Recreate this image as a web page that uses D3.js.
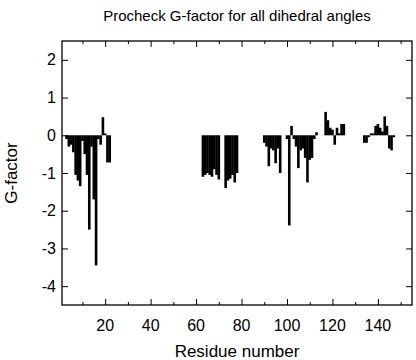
<!DOCTYPE html>
<html>
<head>
<meta charset="utf-8">
<script src="https://cdn.jsdelivr.net/npm/d3@7"></script>
<style>
    body { margin: 0; background: #fff; }
    text { font-family: "Liberation Sans", Arial, Helvetica, sans-serif; fill: #000; }
</style>
</head>
<body>
<div id="chart"></div>
<script>
// Data: residue numbers and their G-factor values
const residues = [
    3, 4, 5, 6, 7, 8, 9, 10, 11, 12, 13, 14, 15, 16, 17, 18, 19, 20, 21, 22,
    63, 64, 65, 66, 67, 68, 69, 70,
    73, 74, 75, 76, 77, 78,
    90, 91, 92, 93, 94, 95, 96, 97,
    100, 101, 102, 103, 104, 105, 106, 107, 108, 109, 110, 111, 112, 113,
    117, 118, 119, 120, 121, 122, 123, 124, 125,
    134, 135, 136, 137, 138, 139, 140, 141, 142, 143, 144, 145, 146, 147
];
const gFactor = [
    -0.1, -0.3, -0.25, -0.45, -1.05, -1.2, -1.35, -0.15, -0.5, -1.05, -2.5, -0.3, -1.7, -3.45, -0.1, -0.25, 0.48, 0.05, -0.72, -0.72,
    -1.1, -1.05, -1.0, -1.05, -1.1, -0.9, -1.05, -1.17,
    -1.4, -1.2, -1.15, -1.05, -1.25, -1.0,
    -0.2, -0.3, -0.82, -0.35, -0.4, -0.74, -0.35, -1.0,
    -0.1, -2.39, 0.25, -0.1, -0.3, -0.87, -0.4, -0.35, -0.6, -1.25, -0.65, -0.6, -0.1, 0.08,
    0.62, 0.4, 0.2, 0.15, -0.25, 0.2, 0.05, 0.3, 0.3,
    -0.2, -0.2, -0.05, 0.05, 0.05, 0.25, 0.3, 0.2, 0.1, 0.5, 0.25, -0.35, -0.4, -0.05
];
const xMajorTicks = [20, 40, 60, 80, 100, 120, 140];
const xMinorTicks = [10, 30, 50, 70, 90, 110, 130, 150];
const yTicks = [2, 1, 0, -1, -2, -3, -4];

// Configuration
const chartConfig = {
    width: 416,
    height: 360,
    margin: { top: 41, right: 4, bottom: 55, left: 62 },
    xDomain: [1, 155],
    yDomain: [-4.5, 2.5],
    barWidth: 2.6
};

function drawChart() {
    const { width, height, margin } = chartConfig;
    const innerW = width - margin.left - margin.right;
    const innerH = height - margin.top - margin.bottom;

    const svg = d3.select("#chart").append("svg")
        .attr("width", width)
        .attr("height", height);

    const x = d3.scaleLinear().domain(chartConfig.xDomain).range([margin.left, margin.left + innerW]);
    const y = d3.scaleLinear().domain(chartConfig.yDomain).range([margin.top + innerH, margin.top]);

    // Bars
    const data = residues.map((r, i) => ({ r, v: gFactor[i] }));
    svg.append("g")
        .selectAll("rect")
        .data(data)
        .enter()
        .append("rect")
        .attr("x", d => x(d.r) - chartConfig.barWidth / 2)
        .attr("width", chartConfig.barWidth)
        .attr("y", d => y(Math.max(0, d.v)))
        .attr("height", d => Math.abs(y(d.v) - y(0)))
        .attr("fill", "#000");

    // Axes, ticks pointing inward on all four sides
    const bottomY = margin.top + innerH;
    const rightX = margin.left + innerW;
    const axisStyle = g => g.call(g => g.select(".domain").remove())
        .call(g => g.selectAll("line").attr("stroke", "#000"));

    svg.append("g").attr("transform", `translate(0,${bottomY})`)
        .call(d3.axisTop(x).tickValues(xMajorTicks).tickSize(6).tickFormat(""))
        .call(axisStyle);
    svg.append("g").attr("transform", `translate(0,${bottomY})`)
        .call(d3.axisTop(x).tickValues(xMinorTicks).tickSize(3).tickFormat(""))
        .call(axisStyle);
    svg.append("g").attr("transform", `translate(0,${margin.top})`)
        .call(d3.axisBottom(x).tickValues(xMajorTicks).tickSize(6).tickFormat(""))
        .call(axisStyle);
    svg.append("g").attr("transform", `translate(0,${margin.top})`)
        .call(d3.axisBottom(x).tickValues(xMinorTicks).tickSize(3).tickFormat(""))
        .call(axisStyle);
    svg.append("g").attr("transform", `translate(${margin.left},0)`)
        .call(d3.axisRight(y).tickValues(yTicks).tickSize(6).tickFormat(""))
        .call(axisStyle);
    svg.append("g").attr("transform", `translate(${rightX},0)`)
        .call(d3.axisLeft(y).tickValues(yTicks).tickSize(6).tickFormat(""))
        .call(axisStyle);

    // Frame
    svg.append("rect")
        .attr("x", margin.left)
        .attr("y", margin.top)
        .attr("width", innerW)
        .attr("height", innerH)
        .attr("fill", "none")
        .attr("stroke", "#000")
        .attr("stroke-width", 1.3);

    // Tick labels
    svg.append("g").selectAll("text")
        .data(xMajorTicks)
        .enter()
        .append("text")
        .attr("x", d => x(d))
        .attr("y", bottomY + 26)
        .attr("text-anchor", "middle")
        .attr("font-size", "16px")
        .text(d => d);

    svg.append("g").selectAll("text")
        .data(yTicks)
        .enter()
        .append("text")
        .attr("x", 56)
        .attr("y", d => y(d))
        .attr("text-anchor", "end")
        .attr("dominant-baseline", "central")
        .attr("font-size", "16px")
        .text(d => d);

    // Titles
    svg.append("text")
        .attr("x", margin.left + innerW / 2)
        .attr("y", 21)
        .attr("text-anchor", "middle")
        .attr("font-size", "15px")
        .text("Procheck G-factor for all dihedral angles");

    svg.append("text")
        .attr("x", margin.left + innerW / 2)
        .attr("y", 357)
        .attr("text-anchor", "middle")
        .attr("font-size", "17px")
        .text("Residue number");

    svg.append("text")
        .attr("transform", `translate(17,${y(-1)}) rotate(-90)`)
        .attr("text-anchor", "middle")
        .attr("font-size", "17px")
        .text("G-factor");
}

drawChart();
</script>
</body>
</html>
